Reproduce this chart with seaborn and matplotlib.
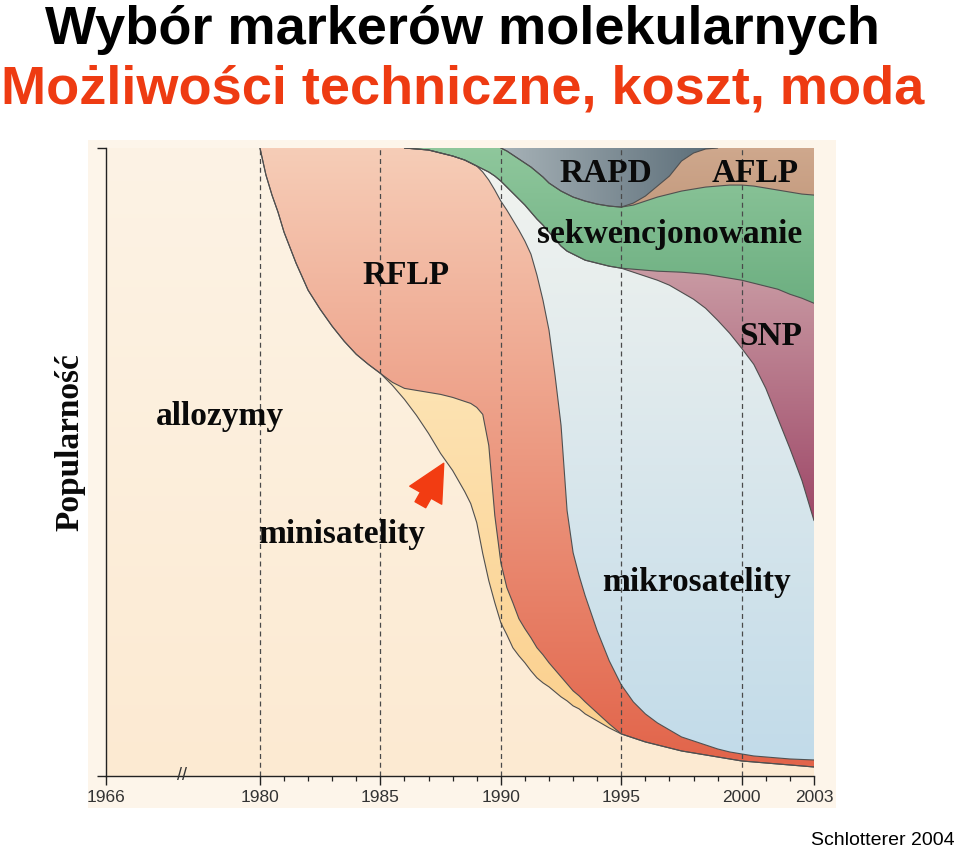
import numpy as np
import pandas as pd
import matplotlib
matplotlib.use("Agg")
import matplotlib.pyplot as plt
import seaborn as sns
from matplotlib.colors import LinearSegmentedColormap
from matplotlib.patches import Rectangle

# ---------------- data (relative popularity) ----------------
years = [1966,
         1980, 1980.25, 1980.5, 1980.75, 1981, 1981.5, 1982, 1982.5, 1983, 1983.5, 1984, 1984.5,
         1985, 1985.5, 1986, 1986.5, 1987, 1987.5, 1988, 1988.5, 1988.75,
         1989, 1989.25, 1989.5, 1989.75, 1990, 1990.25, 1990.5, 1990.75,
         1991, 1991.25, 1991.5, 1991.75, 1992, 1992.25, 1992.5, 1992.75,
         1993, 1993.25, 1993.5, 1994, 1994.5,
         1995, 1995.5, 1996, 1996.5, 1997, 1997.5, 1998, 1998.5, 1999, 1999.5,
         2000, 2000.5, 2001, 2001.5, 2002, 2002.5, 2003]

allozymy = [627,
            627, 600, 580, 563, 543, 512, 485, 466, 449, 434, 421, 411,
            402, 390, 376, 360, 342, 322, 305, 284, 272,
            253, 222, 195, 173, 153, 141, 128, 120,
            113, 105, 98, 93, 89, 84, 79, 75,
            70, 67, 62, 55, 48,
            42, 38, 34, 31, 28, 25, 23, 21, 19, 17,
            15, 14, 13, 12, 11, 10, 9]
minisatelity = [0,
                0, 0, 0, 0, 0, 0, 0, 0, 0, 0, 0, 0,
                0, 3, 11, 25, 41, 59, 73, 90, 100,
                115, 139, 135, 87, 60, 47, 45, 37,
                34, 33, 30, 28, 24, 22, 20, 17,
                15, 13, 12, 8, 4,
                0, 0, 0, 0, 0, 0, 0, 0, 0, 0,
                0, 0, 0, 0, 0, 0, 0]
RFLP = [0,
        0, 27, 47, 64, 84, 115, 142, 161, 178, 193, 206, 216,
        225, 234, 240, 241, 242, 241, 241, 241, 240,
        241, 242, 265, 325, 361, 377, 382, 388,
        387, 383, 372, 354, 332, 294, 251, 173,
        138, 120, 106, 82, 63,
        49, 36, 28, 22, 18, 14, 12, 10, 8, 7,
        7, 6, 6, 6, 6, 6.5, 7]
mikrosatelity = [0,
                 0, 0, 0, 0, 0, 0, 0, 0, 0, 0, 0, 0,
                 0, 0, 0, 0, 0, 0, 0, 0, 0,
                 0, 3, 8, 14, 20, 23, 27, 31,
                 36, 42, 56, 75, 98, 136, 179, 259,
                 298, 318, 335, 367, 394,
                 416, 429, 437, 442, 444, 444, 441, 436, 428, 418,
                 405, 391, 368, 339, 310, 278.5, 239]
SNP = [0,
       0, 0, 0, 0, 0, 0, 0, 0, 0, 0, 0, 0,
       0, 0, 0, 0, 0, 0, 0, 0, 0,
       0, 0, 0, 0, 0, 0, 0, 0,
       0, 0, 0, 0, 0, 0, 0, 0,
       0, 0, 0, 0, 0,
       0, 3, 6, 9, 13.5, 20, 26, 34, 44, 55,
       68, 81, 102, 129, 154, 182, 217]
sekwencjonowanie = [0,
                    0, 0, 0, 0, 0, 0, 0, 0, 0, 0, 0, 0,
                    0, 0, 0, 1, 2, 5, 8, 12, 15,
                    18, 21, 24, 28, 33, 36, 38, 40,
                    42, 45, 47, 48, 49, 52, 55, 57,
                    57, 58, 59, 59, 60,
                    61, 64, 69, 74, 77.5, 81, 84, 87, 90, 93,
                    95, 97, 98, 99, 102, 104, 108]
AFLP = [0,
        0, 0, 0, 0, 0, 0, 0, 0, 0, 0, 0, 0,
        0, 0, 0, 0, 0, 0, 0, 0, 0,
        0, 0, 0, 0, 0, 0, 0, 0,
        0, 0, 0, 0, 0, 0, 0, 0,
        0, 0, 0, 0, 0,
        0, 2, 5, 11, 18, 30, 36, 38, 38, 37,
        37, 38, 40, 42, 44, 46, 47]
RAPD = [0,
        0, 0, 0, 0, 0, 0, 0, 0, 0, 0, 0, 0,
        0, 0, 0, 0, 0, 0, 0, 0, 0,
        0, 0, 0, 0, 0, 3, 7, 11,
        15, 19, 24, 29, 35, 39, 43, 46,
        49, 51, 53, 56, 58,
        59, 55, 48, 38, 28, 13, 5, 1, 0, 0,
        0, 0, 0, 0, 0, 0, 0]

tick_years = [1966, 1980, 1985, 1990, 1995, 2000, 2003]
tick_labels = ["1966", "1980", "1985", "1990", "1995", "2000", "2003"]
dashed_years = [1980, 1985, 1990, 1995, 2000]

layer_names = ["allozymy", "minisatelity", "RFLP", "mikrosatelity", "SNP",
               "sekwencjonowanie", "AFLP", "RAPD"]
layer_values = [allozymy, minisatelity, RFLP, mikrosatelity, SNP,
                sekwencjonowanie, AFLP, RAPD]

# ---------------- styling ----------------
sns.set_style("ticks")
plt.rcParams["font.family"] = ["Liberation Sans", "DejaVu Sans"]

colors = {
    "allozymy": ("#FDF3E5", "#FCEAD2", "v"),
    "minisatelity": ("#FDE3B3", "#FBD08E", "v"),
    "RFLP": ("#F6CDB7", "#E2644A", "v"),
    "mikrosatelity": ("#F1F3EF", "#C2DBE9", "v"),
    "SNP": ("#C99AA3", "#9E4868", "v"),
    "sekwencjonowanie": ("#8FC79C", "#6DAF81", "v"),
    "AFLP": ("#CFA88D", "#C59C80", "v"),
    "RAPD": ("#A9B4B9", "#5A6C77", "h"),
}

BREAK_SCALE = 6.39 / 14.0


def to_pos(y):
    y = np.asarray(y, dtype=float)
    return np.where(y >= 1980, y, 1980 - (1980 - y) * BREAK_SCALE)


df = pd.DataFrame({n: v for n, v in zip(layer_names, layer_values)}, index=years)
share = df.div(df.sum(axis=1), axis=0) * 100.0
cum = share.cumsum(axis=1)
xpos = to_pos(years)
XMIN, XMAX = float(to_pos([1966])[0]), 2003.0

W, H = 960, 849
fig = plt.figure(figsize=(W / 100, H / 100), dpi=100)
fig.patch.set_facecolor("white")
fig.patches.append(Rectangle((88 / W, 1 - 808 / H), (836 - 88) / W, (808 - 140) / H,
                             transform=fig.transFigure, facecolor="#FDF5EA",
                             edgecolor="none", zorder=-5))
ax = fig.add_axes([106 / W, (H - 776) / H, 708 / W, 628 / H])
ax.set_zorder(1)
ax.set_facecolor("none")

lower = np.zeros(len(years))
for i, name in enumerate(layer_names):
    upper = cum[name].values
    c_top, c_bot, direction = colors[name]
    coll = ax.fill_between(xpos, lower, upper, facecolor=c_bot, edgecolor="none",
                           linewidth=0, zorder=2)
    nz = upper - lower > 1e-9
    if direction == "v":
        cmap = LinearSegmentedColormap.from_list(name, [c_bot, c_top])
        arr = np.linspace(0, 1, 256).reshape(-1, 1)
        ext = [XMIN, XMAX, lower[nz].min(), upper[nz].max()]
    else:
        cmap = LinearSegmentedColormap.from_list(name, [c_top, c_bot])
        arr = np.linspace(0, 1, 256).reshape(1, -1)
        xs = xpos[nz]
        ext = [xs.min() - 0.5, xs.max() + 0.5, 0, 100]
    im = ax.imshow(arr, cmap=cmap, extent=ext, origin="lower", aspect="auto",
                   interpolation="bilinear", zorder=2.5)
    im.set_clip_path(coll.get_paths()[0], transform=ax.transData)
    lower = upper

# boundary lines (seaborn)
rows = []
for name in layer_names[:-1]:
    v = cum[name].values
    vis = v < 99.95
    keep = vis | np.r_[vis[1:], False] | np.r_[False, vis[:-1]]
    for xp, yv, k in zip(xpos, v, keep):
        if k:
            rows.append({"pos": xp, "val": yv, "layer": name})
lines_df = pd.DataFrame(rows)
sns.lineplot(data=lines_df, x="pos", y="val", units="layer", estimator=None,
             color="#505050", linewidth=0.8, legend=False, sort=False, ax=ax, zorder=4)

for yr in dashed_years:
    ax.axvline(yr, color="#4a4a4a", linewidth=0.9, linestyle=(0, (4, 3)), zorder=5)

ax.set_xlim(XMIN, XMAX)
ax.set_ylim(0, 100)
ax.set_xlabel("")
ax.set_ylabel("")

# axes
for s in ["top", "right"]:
    ax.spines[s].set_visible(False)
for s in ["left", "bottom"]:
    ax.spines[s].set_color("#222222")
    ax.spines[s].set_linewidth(1.0)
    ax.spines[s].set_zorder(6)
ax.set_xticks(to_pos(tick_years))
ax.set_xticklabels(tick_labels, family=["Liberation Sans Narrow", "Liberation Sans"],
                   fontsize=12.5, color="#333333")
ax.set_xticks([y for y in range(1981, 2003) if y % 5 != 0], minor=True)
ax.tick_params(axis="x", which="major", length=6.5, width=1.0, color="#222222",
               direction="out", pad=3.5)
ax.tick_params(axis="x", which="minor", length=3.5, width=0.9, color="#222222",
               direction="out")
ax.set_yticks([0, 100])
ax.set_yticklabels([])
ax.tick_params(axis="y", which="major", length=6.5, width=1.0, color="#222222",
               direction="out")
ax.text(1976.76, 0, "//", ha="center", va="center", fontsize=13, color="#333333",
        clip_on=False, zorder=7)

# layer labels
serif = dict(family=["Liberation Serif", "DejaVu Serif"], fontweight="bold",
             fontsize=24, color="#0a0a0a", zorder=8)
labels = [
    ("RAPD", 1994.36, 94.6),
    ("AFLP", 2000.54, 94.6),
    ("sekwencjonowanie", 1997.01, 84.9),
    ("RFLP", 1986.06, 78.3),
    ("SNP", 2001.20, 68.6),
    ("allozymy", 1978.34, 55.9),
    ("minisatelity", 1983.40, 37.1),
    ("mikrosatelity", 1998.13, 29.5),
]
for txt, xv, yv in labels:
    ax.text(xv, yv, txt, ha="center", va="baseline", **serif)

# arrow pointing at minisatellites
ax.annotate("", xy=(1987.63, 49.8), xytext=(1986.66, 43.2),
            arrowprops=dict(arrowstyle="simple,head_length=1.2,head_width=1.2,tail_width=0.4",
                            color="#F23C12", mutation_scale=22, shrinkA=0, shrinkB=0),
            zorder=8)

# titles and annotations
fig.text(462 / W, 1 - 44 / H, "Wybór markerów molekularnych", ha="center", va="baseline",
         fontsize=39, fontweight="bold", color="black", family=["Liberation Sans", "DejaVu Sans"])
fig.text(463 / W, 1 - 104 / H, "Możliwości techniczne, koszt, moda", ha="center",
         va="baseline", fontsize=39, fontweight="bold", color="#EE3B12",
         family=["Liberation Sans", "DejaVu Sans"])
fig.text(70 / W, 1 - 442 / H, "Popularność", rotation=90, ha="center", va="center",
         fontsize=24, fontweight="bold", family=["Liberation Serif", "DejaVu Serif"],
         color="#0a0a0a")
fig.text(955 / W, 1 - 845 / H, "Schlotterer 2004", ha="right", va="baseline",
         fontsize=14, family=["Liberation Sans", "DejaVu Sans"], color="black")

fig.savefig("out.png", dpi=100)
